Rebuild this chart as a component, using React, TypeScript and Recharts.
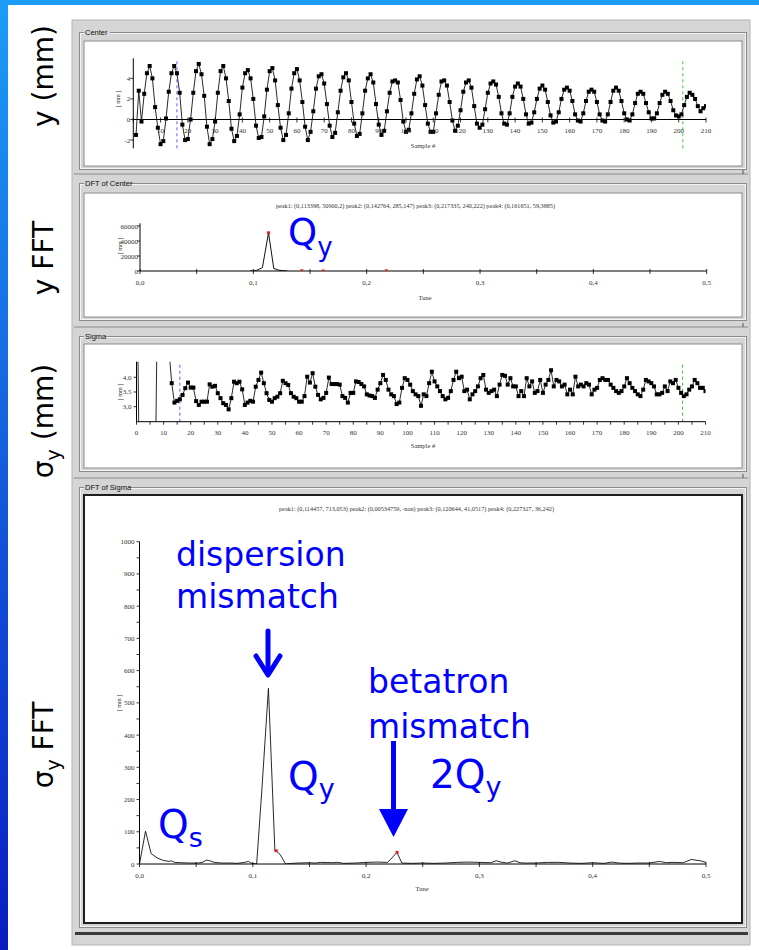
import React from "react";
import {
  ComposedChart,
  Line,
  ReferenceLine,
  Scatter,
  XAxis,
  YAxis,
} from "recharts";

const W = 759;
const H = 950;

// vertical beam position [mm], samples 1..210
const centerY = [
  -1.5, 2.8, -0.2, 2.5, 4.5, 5.2, 4.0, 1.2, -0.8, -2.4,
  -2.1, 0.1, 2.7, 4.5, 5.2, 4.5, 2.6, -0.5, -2.0, -1.9,
  0.0, 2.6, 4.7, 5.4, 4.4, 2.3, -0.7, -2.4, -1.9, -0.2,
  2.6, 4.7, 5.2, 4.0, 1.8, -0.9, -2.1, -1.6, 0.5, 3.1,
  4.5, 4.8, 4.0, 2.0, -0.6, -1.8, -1.7, 0.3, 2.9, 4.7,
  5.0, 3.8, 1.4, -0.8, -2.0, -1.5, 0.6, 3.0, 4.5, 4.9,
  3.8, 1.7, -0.7, -2.0, -1.2, 0.8, 3.0, 4.2, 4.4, 3.5,
  1.5, -0.6, -1.7, -1.3, 0.7, 2.8, 4.1, 4.5, 3.8, 1.7,
  -0.4, -1.6, -1.4, 0.6, 2.8, 4.0, 4.4, 3.6, 1.5, -0.5,
  -1.5, -1.1, 0.8, 2.6, 3.7, 3.8, 3.6, 1.9, -0.2, -1.2,
  -1.0, 0.6, 2.5, 3.9, 4.2, 3.3, 1.4, -0.4, -1.2, -1.2,
  0.6, 2.4, 3.7, 3.8, 3.3, 1.7, -0.1, -1.1, -0.6, 0.9,
  2.7, 3.6, 3.8, 3.1, 1.3, -0.4, -0.8, -0.5, 1.0, 2.6,
  3.5, 3.7, 3.4, 2.2, 0.6, -0.4, -0.5, 0.6, 2.2, 3.2,
  3.5, 3.2, 2.0, 0.5, -0.4, -0.3, 0.7, 2.0, 3.0, 3.3,
  2.9, 1.7, 0.4, -0.3, -0.2, 0.7, 2.0, 2.9, 3.1, 2.8,
  1.8, 0.5, -0.1, -0.2, 0.6, 1.8, 2.7, 2.9, 2.7, 1.7,
  0.5, -0.1, -0.2, 0.5, 1.7, 2.8, 3.1, 2.8, 1.8, 0.6,
  0.0, -0.1, 0.5, 1.6, 2.5, 2.7, 2.5, 1.6, 0.7, 0.1,
  0.1, 0.6, 1.6, 2.4, 2.7, 2.5, 1.8, 0.9, 0.4, 0.3,
  0.5, 1.4, 2.2, 2.6, 2.4, 2.0, 1.3, 0.8, 1.1, 1.3,
];
const centerFirstSample = 1;

// beam size [mm], samples 0..210 (first samples are off scale)
const sigmaY = [
  9, 1, 1, 1, 1, 1, 1, 1, 9, 9,
  9, 9, 4.9, 3.8, 3.14, 3.2, 3.25, 3.4, 3.63, 3.82,
  3.65, 3.65, 3.19, 3.06, 3.17, 3.17, 3.17, 3.76, 3.68, 3.71,
  3.46, 3.29, 3.12, 3.06, 2.91, 3.29, 3.85, 3.8, 3.85, 3.59,
  3.06, 3.14, 3.2, 3.17, 3.68, 3.91, 4.16, 3.8, 3.46, 3.23,
  3.17, 3.29, 3.34, 3.46, 3.88, 3.8, 3.74, 3.46, 3.34, 3.29,
  3.17, 3.17, 3.36, 4.02, 3.82, 4.14, 3.68, 3.4, 3.25, 3.3,
  3.47, 3.99, 3.77, 3.77, 3.77, 3.75, 3.36, 3.3, 3.14, 3.47,
  3.47, 3.86, 3.84, 3.77, 3.69, 3.42, 3.38, 3.36, 3.3, 3.58,
  3.8, 4.08, 3.91, 3.58, 3.42, 3.36, 3.09, 3.14, 3.64, 3.97,
  3.91, 3.75, 3.53, 3.42, 3.36, 3.03, 3.42, 3.36, 3.8, 4.19,
  3.86, 3.69, 3.53, 3.36, 3.25, 3.3, 3.53, 3.91, 4.19, 3.97,
  4.02, 3.53, 3.58, 3.25, 3.42, 3.53, 3.69, 3.97, 4.08, 3.58,
  3.47, 3.53, 3.58, 3.36, 3.75, 4.08, 4.05, 3.75, 3.97, 3.69,
  3.69, 3.36, 3.53, 3.36, 3.97, 3.69, 3.86, 3.47, 3.53, 3.91,
  3.47, 3.75, 3.91, 4.24, 3.69, 3.91, 3.86, 3.69, 3.75, 3.42,
  3.58, 3.42, 4.02, 3.69, 3.75, 3.69, 3.8, 3.75, 3.42, 3.58,
  3.64, 3.91, 3.97, 3.91, 3.91, 3.75, 3.64, 3.53, 3.47, 3.53,
  3.69, 3.97, 3.8, 3.64, 3.53, 3.42, 3.36, 3.58, 3.91, 3.86,
  3.8, 3.69, 3.42, 3.42, 3.47, 3.69, 3.53, 3.86, 3.8, 3.91,
  3.64, 3.47, 3.36, 3.42, 3.58, 3.69, 3.91, 3.8, 3.64, 3.64,
  3.53,
];
const sigmaFirstSample = 0;

const dftCenterTune = [0.097, 0.1, 0.103, 0.108, 0.1134, 0.118, 0.122, 0.126, 0.13];
const dftCenterAmp = [0, 200, 900, 4500, 50900, 3500, 1200, 500, 0];
const dftCenterPeakTune = [0.113398, 0.142764, 0.217335, 0.161651];
const dftCenterPeakAmp = [50900.2, 285.147, 240.222, 59.3885];

const dftSigmaTune = [
  0, 0.0053, 0.0103, 0.0156, 0.0209, 0.026, 0.028, 0.031, 0.036, 0.045,
  0.052, 0.056, 0.059, 0.062, 0.066, 0.072, 0.08, 0.086, 0.093, 0.096,
  0.099, 0.1034, 0.108, 0.1138, 0.1195, 0.1206, 0.124, 0.129, 0.135, 0.14,
  0.15, 0.155, 0.16, 0.17, 0.175, 0.18, 0.19, 0.2, 0.21, 0.219,
  0.2273, 0.2315, 0.24, 0.25, 0.26, 0.27, 0.28, 0.29, 0.3, 0.31,
  0.315, 0.32, 0.325, 0.331, 0.336, 0.34, 0.35, 0.36, 0.37, 0.38,
  0.39, 0.4, 0.41, 0.417, 0.423, 0.43, 0.44, 0.45, 0.459, 0.465,
  0.47, 0.48, 0.487, 0.495, 0.5,
];
const dftSigmaAmp = [
  0, 102, 32, 19, 11, 8, 10, 5, 4, 3,
  3, 6, 12, 10, 5, 3, 3, 2, 5, 8,
  2, 0, 230, 545, 40, 41, 30, 0, 2, 3,
  4, 3, 5, 4, 5, 2, 3, 5, 6, 5,
  36, 3, 2, 3, 2, 3, 5, 6, 5, 4,
  10, 5, 3, 10, 4, 3, 3, 5, 5, 3,
  2, 4, 2, 6, 3, 2, 3, 3, 8, 4,
  5, 4, 14, 10, 5,
];
const dftSigmaPeakTune = [0.120644, 0.227327];
const dftSigmaPeakAmp = [41.0517, 36.242];

const sampleTicks = [0, 10, 20, 30, 40, 50, 60, 70, 80, 90, 100, 110, 120, 130, 140, 150, 160, 170, 180, 190, 200, 210];
const sampleTicksFine = [
  0, 5, 10, 15, 20, 25, 30, 35, 40, 45, 50, 55, 60, 65, 70, 75, 80, 85, 90, 95, 100, 105,
  110, 115, 120, 125, 130, 135, 140, 145, 150, 155, 160, 165, 170, 175, 180, 185, 190, 195, 200, 205, 210,
];
const tuneTicks = [0, 0.05, 0.1, 0.15, 0.2, 0.25, 0.3, 0.35, 0.4, 0.45, 0.5];
const centerYTicks = [-2, 0, 2, 4];
const sigmaYTicks = [3, 3.5, 4];
const dftCenterYTicks = [0, 20000, 40000, 60000];
const dftSigmaYTicks = [
  0, 50, 100, 150, 200, 250, 300, 350, 400, 450, 500, 550, 600, 650, 700, 750, 800, 850, 900, 950, 1000,
];

// cursor positions (sample #)
const cursorBlue = 16;
const cursorGreen = 201.5;

const centerDomain: [number, number] = [-2.8, 5.95];
const sigmaDomain: [number, number] = [2.49, 4.53];
const dftCenterDomain: [number, number] = [0, 63600];
const dftSigmaDomain: [number, number] = [0, 1000];

const centerData = centerY.map((y, i) => ({ x: i + centerFirstSample, y }));
const sigmaData = sigmaY.map((y, i) => ({ x: i + sigmaFirstSample, y }));
const dftCenterData = dftCenterTune.map((x, i) => ({ x, y: dftCenterAmp[i] }));
const dftCenterPeaks = dftCenterPeakTune.map((x, i) => ({ x, y: dftCenterPeakAmp[i] }));
const dftSigmaData = dftSigmaTune.map((x, i) => ({ x, y: dftSigmaAmp[i] }));
const dftSigmaPeaks = dftSigmaPeakTune.map((x, i) => ({ x, y: dftSigmaPeakAmp[i] }));

const tickFont = { fontFamily: "'Liberation Serif', serif", fontSize: 7, fill: "#333" };
const comma1 = (v: number) => v.toFixed(1).replace(".", ",");
const isTenth = (v: number) => Math.abs(v * 10 - Math.round(v * 10)) < 1e-6;

// plot box -> chart margins
function frame(l: number, t: number, r: number, b: number, boxTop: number, boxH: number, yW: number, xH: number) {
  return {
    top: boxTop,
    height: boxH,
    yW,
    xH,
    margin: { left: l - yW, right: W - r, top: t - boxTop, bottom: boxTop + boxH - b - xH },
  };
}

const centerBox = frame(133.3, 58.3, 706, 148.3, 41, 125, 20, 16);
const dftCenterBox = frame(140, 223.3, 706.7, 271, 193, 124, 20, 20);
const sigmaBox = frame(136.5, 361.7, 705.5, 421.7, 344, 124, 20, 20);
const dftSigmaBox = frame(139.5, 541.7, 706, 864, 495, 428, 20, 20);

function makeXTick(major: (v: number) => boolean, fmt: (v: number) => string, lift = 0, cross = false) {
  return (props: any) => {
    const { x, y, payload } = props;
    const v = payload.value as number;
    const y0 = y - lift;
    return (
      <g>
        <line x1={x} x2={x} y1={cross ? y0 - 2 : y0} y2={y0 + 3} stroke="#000" strokeWidth={0.8} />
        {major(v) && (
          <text x={x} y={y0 + 13.5} textAnchor="middle" {...tickFont}>
            {fmt(v)}
          </text>
        )}
      </g>
    );
  };
}

function makeYTick(major: (v: number) => boolean, fmt: (v: number) => string, gap = 3) {
  return (props: any) => {
    const { x, y, payload } = props;
    const v = payload.value as number;
    return (
      <g>
        <line x1={x - 3} x2={x} y1={y} y2={y} stroke="#000" strokeWidth={0.8} />
        {major(v) && (
          <text x={x - gap} y={y + 2.5} textAnchor="end" {...tickFont}>
            {fmt(v)}
          </text>
        )}
      </g>
    );
  };
}

const square = (p: any) => (
  <rect key={`sq-${p.index}`} x={p.cx - 2} y={p.cy - 2} width={4} height={4} fill="#000" />
);
const peakMark = (p: any) => (
  <rect x={p.cx - 1.5} y={p.cy - 1.5} width={3} height={3} fill="#e8202a" />
);

const axisCommon = {
  type: "number" as const,
  allowDataOverflow: true,
  tickSize: 0,
  tickMargin: 0,
  tickLine: false,
  interval: 0 as const,
};

function Box({ box, children }: { box: ReturnType<typeof frame>; children: React.ReactNode }) {
  return <div style={{ position: "absolute", left: 0, top: box.top, width: W, height: box.height }}>{children}</div>;
}

function CenterChart() {
  const b = centerBox;
  const plotH = b.height - b.margin.top - b.margin.bottom - b.xH;
  const lift = (plotH * (0 - centerDomain[0])) / (centerDomain[1] - centerDomain[0]);
  return (
    <Box box={b}>
      <ComposedChart width={W} height={b.height} margin={b.margin}>
        <XAxis
          {...axisCommon}
          dataKey="x"
          domain={[0, 210]}
          ticks={sampleTicks}
          height={b.xH}
          axisLine={false}
          tick={makeXTick((v) => v > 0, (v) => String(v), lift, true)}
        />
        <YAxis
          {...axisCommon}
          dataKey="y"
          domain={centerDomain}
          ticks={centerYTicks}
          width={b.yW}
          axisLine={{ stroke: "#000" }}
          tick={makeYTick(() => true, (v) => String(v), 3)}
        />
        <ReferenceLine y={0} stroke="#000" strokeWidth={1} />
        <ReferenceLine x={cursorBlue} stroke="#5a5aff" strokeDasharray="3 3" />
        <ReferenceLine x={cursorGreen} stroke="#3cc83c" strokeDasharray="3 3" />
        <Line
          data={centerData}
          dataKey="y"
          type="linear"
          stroke="#111"
          strokeWidth={0.9}
          dot={square}
          isAnimationActive={false}
        />
      </ComposedChart>
    </Box>
  );
}

function DftCenterChart() {
  const b = dftCenterBox;
  return (
    <Box box={b}>
      <ComposedChart width={W} height={b.height} margin={b.margin}>
        <XAxis
          {...axisCommon}
          dataKey="x"
          domain={[0, 0.5]}
          ticks={tuneTicks}
          height={b.xH}
          axisLine={{ stroke: "#000" }}
          tick={makeXTick(isTenth, comma1, 0, true)}
        />
        <YAxis
          {...axisCommon}
          dataKey="y"
          domain={dftCenterDomain}
          ticks={dftCenterYTicks}
          width={b.yW}
          axisLine={{ stroke: "#000" }}
          tick={makeYTick(() => true, (v) => String(v), 2)}
        />
        <Line data={dftCenterData} dataKey="y" type="linear" stroke="#111" strokeWidth={1} dot={false} isAnimationActive={false} />
        <Scatter data={dftCenterPeaks} dataKey="y" shape={peakMark} isAnimationActive={false} />
      </ComposedChart>
    </Box>
  );
}

function SigmaChart() {
  const b = sigmaBox;
  return (
    <Box box={b}>
      <ComposedChart width={W} height={b.height} margin={b.margin}>
        <XAxis
          {...axisCommon}
          dataKey="x"
          domain={[0, 210]}
          ticks={sampleTicksFine}
          height={b.xH}
          axisLine={{ stroke: "#000" }}
          tick={makeXTick((v) => v % 10 === 0, (v) => String(v))}
        />
        <YAxis
          {...axisCommon}
          dataKey="y"
          domain={sigmaDomain}
          ticks={sigmaYTicks}
          width={b.yW}
          axisLine={{ stroke: "#000" }}
          tick={makeYTick(() => true, comma1, 5)}
        />
        <ReferenceLine x={cursorBlue} stroke="#5a5aff" strokeDasharray="3 3" />
        <ReferenceLine x={cursorGreen} stroke="#3cc83c" strokeDasharray="3 3" />
        <Line
          data={sigmaData}
          dataKey="y"
          type="linear"
          stroke="#111"
          strokeWidth={0.9}
          dot={square}
          isAnimationActive={false}
        />
      </ComposedChart>
    </Box>
  );
}

function DftSigmaChart() {
  const b = dftSigmaBox;
  return (
    <Box box={b}>
      <ComposedChart width={W} height={b.height} margin={b.margin}>
        <XAxis
          {...axisCommon}
          dataKey="x"
          domain={[0, 0.5]}
          ticks={tuneTicks}
          height={b.xH}
          axisLine={{ stroke: "#000" }}
          tick={makeXTick(isTenth, comma1, 0, true)}
        />
        <YAxis
          {...axisCommon}
          dataKey="y"
          domain={dftSigmaDomain}
          ticks={dftSigmaYTicks}
          width={b.yW}
          axisLine={{ stroke: "#000" }}
          tick={makeYTick((v) => v % 100 === 0, (v) => String(v), 5)}
        />
        <Line data={dftSigmaData} dataKey="y" type="linear" stroke="#111" strokeWidth={0.9} dot={false} isAnimationActive={false} />
        <Scatter data={dftSigmaPeaks} dataKey="y" shape={peakMark} isAnimationActive={false} />
      </ComposedChart>
    </Box>
  );
}

const groups = [
  { title: "Center", titleW: 26, top: 32, bottom: 169, boxTop: 41, boxBottom: 166, dark: false },
  { title: "DFT of Center", titleW: 46, top: 183, bottom: 320, boxTop: 193, boxBottom: 317, dark: false },
  { title: "Sigma", titleW: 22, top: 336, bottom: 471, boxTop: 344, boxBottom: 468, dark: false },
  { title: "DFT of Sigma", titleW: 44, top: 487, bottom: 927, boxTop: 495, boxBottom: 923, dark: true },
];

function Background() {
  return (
    <svg width={W} height={H} style={{ position: "absolute", left: 0, top: 0 }}>
      <defs>
        <linearGradient id="leftBar" x1="0" y1="0" x2="0" y2="1">
          <stop offset="0" stopColor="#1c9cf8" />
          <stop offset="1" stopColor="#0a1cc0" />
        </linearGradient>
      </defs>
      <rect x={0} y={0} width={W} height={H} fill="#fff" />
      <rect x={0} y={0} width={W} height={5} fill="#1c9cf8" />
      <rect x={0} y={0} width={8} height={H} fill="url(#leftBar)" />
      <rect x={72} y={20} width={678} height={925} fill="#d5d5d5" stroke="#b4b4b4" />
      {groups.map((g) => (
        <g key={g.title}>
          <rect x={79.5} y={g.top + 0.5} width={667} height={g.bottom - g.top} fill="none" stroke="#8a8a8a" />
          <rect x={80.5} y={g.top + 1.5} width={665} height={g.bottom - g.top - 2} fill="none" stroke="#f4f4f4" />
          <rect x={84} y={g.top - 4} width={g.titleW} height={8} fill="#d5d5d5" />
          <rect
            x={84}
            y={g.boxTop}
            width={658}
            height={g.boxBottom - g.boxTop}
            fill="#fff"
            stroke={g.dark ? "#1e1e1e" : "#8c8c8c"}
            strokeWidth={g.dark ? 2 : 1}
          />
        </g>
      ))}
      {[174, 327, 478].map((y) => (
        <g key={y}>
          <line x1={74} x2={748} y1={y} y2={y} stroke="#8a8a8a" />
          <line x1={743} x2={743} y1={y - 4} y2={y} stroke="#555" />
        </g>
      ))}
      <rect x={75} y={932} width={673} height={3} fill="#3a3a3a" />
    </svg>
  );
}

const blue = "#0000ff";

function Overlay() {
  const small = { fontFamily: "'Liberation Sans', sans-serif", fontSize: 7.5, fill: "#111" };
  const tiny = { fontFamily: "'Liberation Serif', serif", fontSize: 6.5, fill: "#333" };
  return (
    <svg width={W} height={H} style={{ position: "absolute", left: 0, top: 0, pointerEvents: "none" }}>
      {groups.map((g) => (
        <text key={g.title} x={85} y={g.top + 3} {...small}>
          {g.title}
        </text>
      ))}

      <text x={276} y={208} textLength={279} lengthAdjust="spacingAndGlyphs" {...tiny}>
        peak1: (0,113398, 50900,2) peak2: (0,142764, 285,147) peak3: (0,217335, 240,222) peak4: (0,161651, 59,3885)
      </text>
      <text x={279} y={511} textLength={275} lengthAdjust="spacingAndGlyphs" {...tiny}>
        peak1: (0,114457, 713,053) peak2: (0,00534759, -nan) peak3: (0,120644, 41,0517) peak4: (0,227327, 36,242)
      </text>

      <text x={423} y={148} textAnchor="middle" {...tiny}>Sample #</text>
      <text x={425} y={299.5} textAnchor="middle" {...tiny}>Tune</text>
      <text x={423} y={447.5} textAnchor="middle" {...tiny}>Sample #</text>
      <text x={422} y={890.5} textAnchor="middle" {...tiny}>Tune</text>
      {[
        [120, 99],
        [122, 246],
        [122, 392],
        [121, 703],
      ].map(([x, y]) => (
        <text key={y} transform={`translate(${x} ${y}) rotate(-90)`} textAnchor="middle" {...tiny} fontSize={6}>
          [ mm ]
        </text>
      ))}

      <g fontFamily="'DejaVu Sans', sans-serif" fontSize={28} fill="#000">
        <text transform="translate(53 76) rotate(-90)" textAnchor="middle">y (mm)</text>
        <text transform="translate(53 258) rotate(-90)" textAnchor="middle">y FFT</text>
        <text transform="translate(53 421) rotate(-90)" textAnchor="middle">
          σ<tspan fontSize={19} dy={7}>y</tspan>
          <tspan dy={-7}> (mm)</tspan>
        </text>
        <text transform="translate(53 745) rotate(-90)" textAnchor="middle">
          σ<tspan fontSize={19} dy={7}>y</tspan>
          <tspan dy={-7}> FFT</tspan>
        </text>
      </g>

      <g fontFamily="'DejaVu Sans', sans-serif" fill={blue}>
        <text x={288} y={245} fontSize={37}>
          Q<tspan fontSize={26} dy={11}>y</tspan>
        </text>
        <text x={176} y={566} fontSize={33}>dispersion</text>
        <text x={176} y={608} fontSize={33}>mismatch</text>
        <text x={368} y={693} fontSize={33}>betatron</text>
        <text x={368} y={738} fontSize={33}>mismatch</text>
        <text x={288} y={790} fontSize={39}>
          Q<tspan fontSize={27} dy={8}>y</tspan>
        </text>
        <text x={430} y={788} fontSize={39}>
          2Q<tspan fontSize={27} dy={8}>y</tspan>
        </text>
        <text x={158} y={838} fontSize={39}>
          Q<tspan fontSize={27} dy={9}>s</tspan>
        </text>
      </g>

      <g stroke={blue} fill="none" strokeWidth={5} strokeLinecap="round" strokeLinejoin="round">
        <line x1={268} x2={268} y1={631} y2={673} />
        <polyline points="256,656 268,675 280,656" />
      </g>
      <rect x={391} y={741} width={5} height={72} fill={blue} />
      <polygon points="379,809 408,809 393.5,837" fill={blue} />
    </svg>
  );
}

export default function App() {
  return (
    <div style={{ position: "absolute", left: 0, top: 0, width: W, height: H, overflow: "hidden", background: "#fff" }}>
      <Background />
      <CenterChart />
      <DftCenterChart />
      <SigmaChart />
      <DftSigmaChart />
      <Overlay />
    </div>
  );
}
